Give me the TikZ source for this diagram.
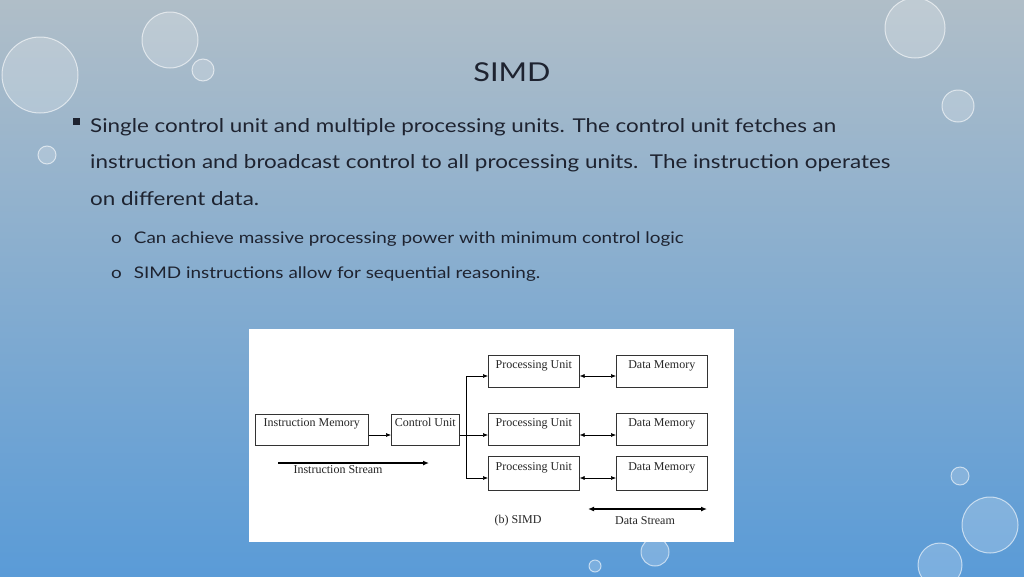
\documentclass[tikz,border=0pt]{standalone}
\usepackage{fontspec}
\setmainfont{Lato}[FakeStretch=1.18]
\newfontfamily\serifd{Liberation Serif}
\usetikzlibrary{arrows.meta}
\definecolor{txt}{HTML}{1E2330}
\begin{document}
\begin{tikzpicture}[x=1pt,y=-1pt,
  box/.style={draw=black!80,line width=0.6pt,minimum width=#1,minimum height=31pt,inner sep=1pt},
  lbl/.style={font=\serifd\fontsize{12}{13}\selectfont,text=black!85},
  conn/.style={line width=0.6pt,-{Latex[length=5pt,width=4pt]}},
  dconn/.style={line width=0.6pt,{Latex[length=5pt,width=4pt]}-{Latex[length=5pt,width=4pt]}},
  drop/.style={fill=white,fill opacity=0.2,draw=white,draw opacity=0.6,line width=1pt}]
\useasboundingbox (0,0) rectangle (1024,576);
\shade[top color={rgb,255:red,176;green,190;blue,200},bottom color={rgb,255:red,90;green,155;blue,215}] (0,0) rectangle (1024,576);
% drops
\foreach \x/\y/\r in {40/75/38,170/40/28,203/70/11,47/155/9,958/106/16,915/28/30,960/476/9,990/525/28,655/552/14,940/565/22,595/566/6} \draw[drop] (\x,\y) circle (\r);
% title
\node[text=txt,font=\fontsize{26}{30}\selectfont] (title) at (512,72) {SIMD};
\fill[txt] (73,118) rectangle (80,125);
\node[anchor=base west,inner sep=0,text=txt,font=\fontsize{19}{22}\selectfont] (l1) at (90,132) {Single control unit and multiple processing units. The control unit fetches an};
\node[anchor=base west,inner sep=0,text=txt,font=\fontsize{19}{22}\selectfont] (l2) at (90,168) {instruction and broadcast control to all processing units.\ \ The instruction operates};
\node[anchor=base west,inner sep=0,text=txt,font=\fontsize{19}{22}\selectfont] (l3) at (90,205) {on different data.};
\node[anchor=base west,inner sep=0,text=txt,font=\fontsize{16}{19}\selectfont] (s1) at (111,243) {o\hspace{12pt}Can achieve massive processing power with minimum control logic};
\node[anchor=base west,inner sep=0,text=txt,font=\fontsize{16}{19}\selectfont] (s2) at (111,278) {o\hspace{12pt}SIMD instructions allow for sequential reasoning.};
% diagram panel
\fill[white] (249,329) rectangle (734,542);
\node[box=113pt,lbl,anchor=north west,align=left,text depth=15pt] (im) at (255,414) {Instruction Memory};
\node[box=68pt,lbl,anchor=north west,text depth=15pt,minimum width=68pt] (cu) at (391,414) {Control Unit};
\foreach \n/\y/\h in {1/355/32,2/413/32,3/456/34}{
  \node[box=91pt,lbl,anchor=north west,minimum height=\h pt,text depth=14pt] (pu\n) at (488,\y) {Processing Unit};
  \node[box=91pt,lbl,anchor=north west,minimum height=\h pt,text depth=14pt] (dm\n) at (616,\y) {Data Memory};
}
\coordinate (br) at (466,435);
\draw[conn] (im.east|-0,435) -- (cu.west|-0,435);
\draw[line width=0.6pt] (cu.east|-0,435) -- (br);
\draw[conn] (br) -- (pu2.west|-0,435);
\draw[conn] (br) |- (pu1.west|-0,376);
\draw[conn] (br) |- (pu3.west|-0,478);
\draw[dconn] (pu1.east|-0,376) -- (dm1.west|-0,376);
\draw[dconn] (pu2.east|-0,435) -- (dm2.west|-0,435);
\draw[dconn] (pu3.east|-0,478) -- (dm3.west|-0,478);
\coordinate (is1) at (278,463); \coordinate (is2) at (429,463);
\draw[line width=1.4pt,-{Latex[length=6pt,width=5pt]}] (is1) -- (is2);
\node[lbl] (ist) at (338,470) {Instruction Stream};
\coordinate (ds1) at (588,509); \coordinate (ds2) at (707,509);
\draw[line width=1.4pt,{Latex[length=6pt,width=5pt]}-{Latex[length=6pt,width=5pt]}] (ds1) -- (ds2);
\node[lbl] (dst) at (645,521) {Data Stream};
\node[lbl] (cap) at (518,521) {(b) SIMD};
\end{tikzpicture}
\end{document}
